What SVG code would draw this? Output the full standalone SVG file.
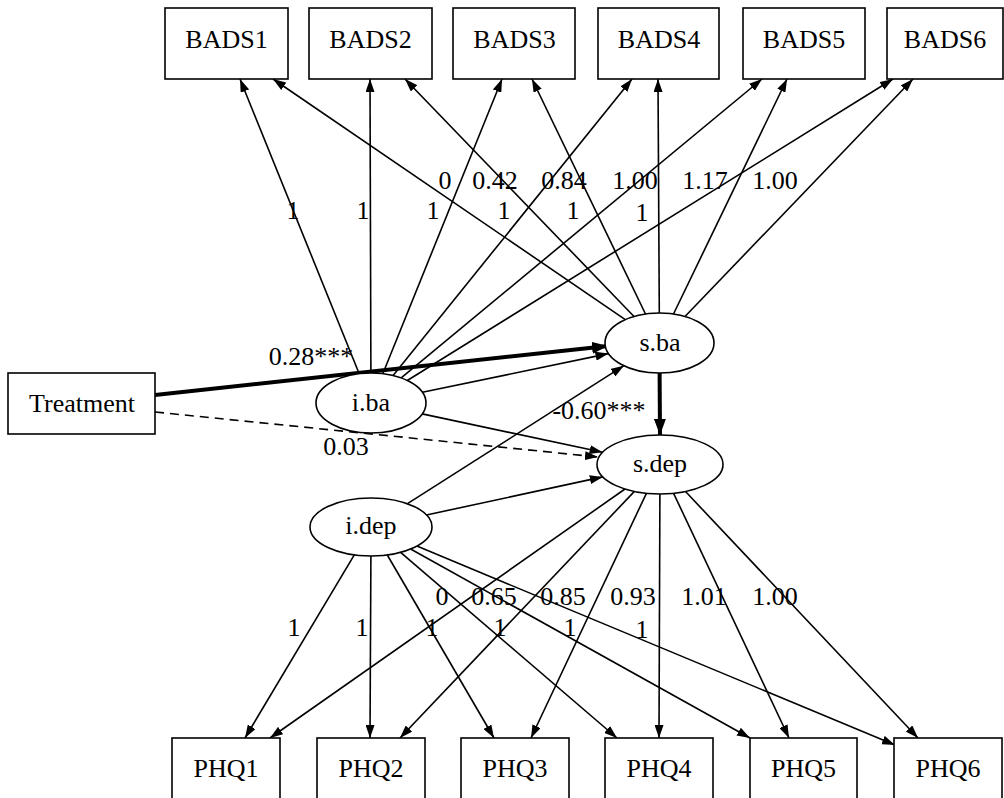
<svg xmlns="http://www.w3.org/2000/svg" width="1004" height="798" viewBox="0 0 1004 798">
<defs>
<style>
text{font-family:"Liberation Serif","Times New Roman",serif;font-size:26px;fill:#000;text-anchor:middle}
.box{fill:#fff;stroke:#000;stroke-width:1.6}
.e{stroke:#000;stroke-width:1.6;fill:none;marker-end:url(#ah)}
.thick{stroke:#000;stroke-width:4;fill:none;marker-end:url(#ahb)}
.dash{stroke-dasharray:9,6}
</style>
<marker id="ah" viewBox="0 0 13 9" refX="13" refY="4.5" markerWidth="13" markerHeight="9" markerUnits="userSpaceOnUse" orient="auto"><path d="M0,0 L13,4.5 L0,9 z" fill="#000"/></marker>
<marker id="ahb" viewBox="0 0 16 12" refX="16" refY="6" markerWidth="16" markerHeight="12" markerUnits="userSpaceOnUse" orient="auto"><path d="M0,0 L16,6 L0,12 z" fill="#000"/></marker>
</defs>
<rect width="1004" height="798" fill="#fff"/>
<g id="connectors">
<line class="e" x1="359.2" y1="373.7" x2="240" y2="79"/>
<line class="e" x1="370.9" y1="373" x2="370" y2="79"/>
<line class="e" x1="382.8" y1="373.7" x2="502" y2="79"/>
<line class="e" x1="393.1" y1="375.5" x2="632" y2="79"/>
<line class="e" x1="401.2" y1="377.9" x2="762" y2="79"/>
<line class="e" x1="407.3" y1="380.5" x2="893" y2="79"/>
<line class="e" x1="625.3" y1="319.6" x2="273" y2="79"/>
<line class="e" x1="634" y1="316.5" x2="405" y2="79"/>
<line class="e" x1="645.5" y1="314" x2="532" y2="79"/>
<line class="e" x1="659.3" y1="313" x2="658" y2="79"/>
<line class="e" x1="673.5" y1="314" x2="787" y2="79"/>
<line class="e" x1="685" y1="316.5" x2="913" y2="79"/>
<line class="e" x1="354.3" y1="554.9" x2="245" y2="738"/>
<line class="e" x1="370.9" y1="556" x2="370" y2="738"/>
<line class="e" x1="387.3" y1="555" x2="494" y2="738"/>
<line class="e" x1="400.6" y1="552.4" x2="617" y2="738"/>
<line class="e" x1="410.6" y1="549" x2="750" y2="738"/>
<line class="e" x1="416.9" y1="546.1" x2="895" y2="745"/>
<line class="e" x1="625" y1="489" x2="270" y2="738"/>
<line class="e" x1="634.4" y1="491.4" x2="400" y2="738"/>
<line class="e" x1="646.4" y1="493.3" x2="531" y2="738"/>
<line class="e" x1="659.9" y1="494" x2="659" y2="738"/>
<line class="e" x1="673.6" y1="493.3" x2="789" y2="738"/>
<line class="e" x1="685.5" y1="491.5" x2="918" y2="738"/>
<line class="thick" x1="155" y1="395" x2="608" y2="346"/>
<line class="e dash" x1="155" y1="412" x2="598" y2="457"/>
<line class="e" x1="422.4" y1="392.3" x2="608.5" y2="353.6"/>
<line class="e" x1="422.2" y1="413.9" x2="602.6" y2="452.3"/>
<line class="e" x1="407.5" y1="503.7" x2="623.9" y2="365.7"/>
<line class="e" x1="426.5" y1="515" x2="602.8" y2="476.9"/>
<line class="thick" x1="659.6" y1="373" x2="660" y2="435"/>
<g id="edge-labels">
<text x="445" y="189">0</text>
<text x="495" y="189">0.42</text>
<text x="564" y="189">0.84</text>
<text x="635" y="189">1.00</text>
<text x="705" y="189">1.17</text>
<text x="775" y="189">1.00</text>
<text x="293" y="219">1</text>
<text x="363" y="219">1</text>
<text x="433" y="219">1</text>
<text x="504" y="219">1</text>
<text x="573" y="219">1</text>
<text x="642" y="221">1</text>
<text x="442" y="605">0</text>
<text x="494" y="605">0.65</text>
<text x="563" y="605">0.85</text>
<text x="633" y="605">0.93</text>
<text x="704" y="605">1.01</text>
<text x="775" y="605">1.00</text>
<text x="294" y="636">1</text>
<text x="362" y="636">1</text>
<text x="432" y="636">1</text>
<text x="500" y="636">1</text>
<text x="570" y="636">1</text>
<text x="642" y="638">1</text>
<text x="311" y="365">0.28***</text>
<text x="346" y="455">0.03</text>
<text x="599" y="419">-0.60***</text>
</g>
</g>
<g id="BADS1"><rect class="box" x="165" y="8" width="123" height="71"/><text x="226.5" y="48">BADS1</text></g>
<g id="BADS2"><rect class="box" x="309" y="8" width="123" height="71"/><text x="370.5" y="48">BADS2</text></g>
<g id="BADS3"><rect class="box" x="453" y="8" width="122" height="71"/><text x="514.5" y="48">BADS3</text></g>
<g id="BADS4"><rect class="box" x="598" y="8" width="121" height="71"/><text x="659" y="48">BADS4</text></g>
<g id="BADS5"><rect class="box" x="743" y="8" width="122" height="71"/><text x="804" y="48">BADS5</text></g>
<g id="BADS6"><rect class="box" x="887" y="8" width="116" height="71"/><text x="945" y="48">BADS6</text></g>
<g id="Treatment"><rect class="box" x="8" y="373" width="147" height="61"/><text x="82" y="412">Treatment</text></g>
<g id="i.ba"><ellipse class="box" cx="371" cy="403" rx="55" ry="30"/><text x="371" y="411">i.ba</text></g>
<g id="s.ba"><ellipse class="box" cx="659.5" cy="343" rx="54.5" ry="30"/><text x="660" y="351">s.ba</text></g>
<g id="s.dep"><ellipse class="box" cx="660" cy="464.5" rx="63" ry="29.5"/><text x="660" y="472">s.dep</text></g>
<g id="i.dep"><ellipse class="box" cx="371" cy="527" rx="61" ry="29"/><text x="371" y="534">i.dep</text></g>
<g id="PHQ1"><rect class="box" x="172" y="738" width="108" height="70"/><text x="226" y="777">PHQ1</text></g>
<g id="PHQ2"><rect class="box" x="317" y="738" width="108" height="70"/><text x="371" y="777">PHQ2</text></g>
<g id="PHQ3"><rect class="box" x="461" y="738" width="108" height="70"/><text x="515" y="777">PHQ3</text></g>
<g id="PHQ4"><rect class="box" x="605" y="738" width="108" height="70"/><text x="659" y="777">PHQ4</text></g>
<g id="PHQ5"><rect class="box" x="750" y="738" width="107" height="70"/><text x="803.5" y="777">PHQ5</text></g>
<g id="PHQ6"><rect class="box" x="894" y="738" width="108" height="70"/><text x="948" y="777">PHQ6</text></g>
</svg>
